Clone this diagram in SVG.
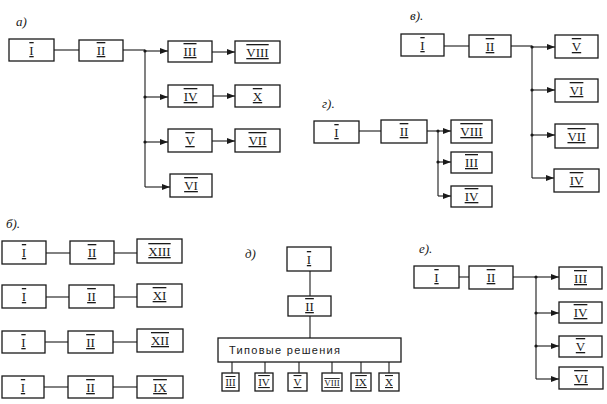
<svg xmlns="http://www.w3.org/2000/svg" width="607" height="404" viewBox="0 0 607 404">
<style>
.b{fill:#fff;stroke:#1a1a1a;stroke-width:1.3}
.n{font-family:"Liberation Serif",serif;font-size:13px;text-anchor:middle;fill:#1a1a1a;text-decoration:overline underline}
.c{stroke:#1a1a1a;stroke-width:1.1;fill:none}
.a{stroke:#1a1a1a;stroke-width:1.1;fill:none;marker-end:url(#ah)}
.l{font-family:"Liberation Serif",serif;font-style:italic;font-size:13px;fill:#1a1a1a}
.t{font-family:"Liberation Sans",sans-serif;font-size:11px;fill:#1a1a1a}
.d{fill:#1a1a1a}
</style>
<defs>
<marker id="ah" viewBox="0 0 8 6" refX="8" refY="3" markerWidth="8" markerHeight="6" markerUnits="userSpaceOnUse" orient="auto">
<path d="M0,0 L8,3 L0,6 Z" fill="#1a1a1a"/>
</marker>
</defs>
<rect width="607" height="404" fill="#fff"/>
<g id="labels">
<text class="l" x="16" y="26">а)</text>
<text class="l" x="410" y="20">в).</text>
<text class="l" x="322" y="108">г).</text>
<text class="l" x="6" y="228">б).</text>
<text class="l" x="245" y="258">д)</text>
<text class="l" x="419" y="253">е).</text>
</g>
<g id="connectors">
<line class="c" x1="54" y1="50" x2="79" y2="50"/>
<line class="c" x1="123" y1="50" x2="145" y2="50"/>
<line class="c" x1="145" y1="50" x2="145" y2="187"/>
<line class="a" x1="145" y1="51" x2="168" y2="51"/>
<line class="a" x1="212" y1="52" x2="235" y2="52"/>
<line class="a" x1="145" y1="97" x2="168" y2="97"/>
<line class="a" x1="213" y1="96" x2="235" y2="96"/>
<line class="a" x1="145" y1="142" x2="168" y2="142"/>
<line class="a" x1="212" y1="141" x2="235" y2="141"/>
<line class="a" x1="145" y1="187" x2="170" y2="187"/>
<circle class="d" cx="145" cy="51" r="1.6"/><circle class="d" cx="145" cy="97" r="1.6"/><circle class="d" cx="145" cy="142" r="1.6"/>
<line class="c" x1="444" y1="46" x2="469" y2="46"/>
<line class="c" x1="511" y1="46" x2="532" y2="46"/>
<line class="c" x1="532" y1="46" x2="532" y2="178"/>
<line class="a" x1="532" y1="47" x2="555" y2="47"/>
<line class="a" x1="532" y1="90" x2="555" y2="90"/>
<line class="a" x1="532" y1="135" x2="555" y2="135"/>
<line class="a" x1="532" y1="178" x2="554" y2="178"/>
<circle class="d" cx="532" cy="47" r="1.6"/><circle class="d" cx="532" cy="90" r="1.6"/><circle class="d" cx="532" cy="135" r="1.6"/>
<line class="c" x1="359" y1="131" x2="381" y2="131"/>
<line class="c" x1="427" y1="131" x2="438" y2="131"/>
<line class="c" x1="438" y1="131" x2="438" y2="196"/>
<line class="a" x1="438" y1="131" x2="451" y2="131"/>
<line class="a" x1="438" y1="162" x2="451" y2="162"/>
<line class="a" x1="438" y1="196" x2="451" y2="196"/>
<circle class="d" cx="438" cy="131" r="1.6"/><circle class="d" cx="438" cy="162" r="1.6"/>
<line class="c" x1="46" y1="253" x2="70" y2="253"/><line class="c" x1="114" y1="253" x2="137" y2="253"/>
<line class="c" x1="46" y1="297" x2="69" y2="297"/><line class="c" x1="114" y1="297" x2="137" y2="297"/>
<line class="c" x1="45" y1="342" x2="68" y2="342"/><line class="c" x1="113" y1="342" x2="137" y2="342"/>
<line class="c" x1="44" y1="387" x2="68" y2="387"/><line class="c" x1="113" y1="387" x2="137" y2="387"/>
<line class="c" x1="310" y1="271" x2="310" y2="296"/>
<line class="c" x1="310" y1="316" x2="310" y2="338"/>
<line class="c" x1="232" y1="362" x2="232" y2="373"/>
<line class="c" x1="265" y1="362" x2="265" y2="373"/>
<line class="c" x1="299" y1="362" x2="299" y2="373"/>
<line class="c" x1="332" y1="362" x2="332" y2="373"/>
<line class="c" x1="361" y1="362" x2="361" y2="373"/>
<line class="c" x1="389" y1="362" x2="389" y2="373"/>
<line class="c" x1="459" y1="277" x2="469" y2="277"/>
<line class="c" x1="513" y1="277" x2="536" y2="277"/>
<line class="c" x1="536" y1="277" x2="536" y2="379"/>
<line class="a" x1="536" y1="277" x2="559" y2="277"/>
<line class="a" x1="536" y1="313" x2="559" y2="313"/>
<line class="a" x1="536" y1="346" x2="559" y2="346"/>
<line class="a" x1="536" y1="379" x2="559" y2="379"/>
<circle class="d" cx="536" cy="277" r="1.6"/><circle class="d" cx="536" cy="313" r="1.6"/><circle class="d" cx="536" cy="346" r="1.6"/>
</g>
<g id="a-I"><rect class="b" x="9" y="39" width="45" height="22"/><text class="n" x="31.5" y="55">I</text></g>
<g id="a-II"><rect class="b" x="79" y="40" width="44" height="21"/><text class="n" x="101" y="55">II</text></g>
<g id="a-III"><rect class="b" x="168" y="41" width="44" height="21"/><text class="n" x="190" y="56">III</text></g>
<g id="a-VIII"><rect class="b" x="235" y="41" width="45" height="22"/><text class="n" x="257.5" y="57">VIII</text></g>
<g id="a-IV"><rect class="b" x="168" y="85" width="45" height="22"/><text class="n" x="190.5" y="101">IV</text></g>
<g id="a-X"><rect class="b" x="235" y="85" width="45" height="22"/><text class="n" x="257.5" y="101">X</text></g>
<g id="a-V"><rect class="b" x="168" y="129" width="44" height="23"/><text class="n" x="190" y="145">V</text></g>
<g id="a-VII"><rect class="b" x="235" y="129" width="45" height="23"/><text class="n" x="257.5" y="145">VII</text></g>
<g id="a-VI"><rect class="b" x="170" y="174" width="42" height="23"/><text class="n" x="191" y="190">VI</text></g>
<g id="v-I"><rect class="b" x="401" y="34" width="43" height="22"/><text class="n" x="422.5" y="50">I</text></g>
<g id="v-II"><rect class="b" x="469" y="35" width="42" height="22"/><text class="n" x="490" y="51">II</text></g>
<g id="v-V"><rect class="b" x="555" y="35" width="43" height="23"/><text class="n" x="576.5" y="51">V</text></g>
<g id="v-VI"><rect class="b" x="555" y="79" width="43" height="23"/><text class="n" x="576.5" y="95">VI</text></g>
<g id="v-VII"><rect class="b" x="555" y="124" width="43" height="24"/><text class="n" x="576.5" y="141">VII</text></g>
<g id="v-IV"><rect class="b" x="554" y="169" width="45" height="23"/><text class="n" x="576.5" y="185">IV</text></g>
<g id="g-I"><rect class="b" x="314" y="121" width="45" height="22"/><text class="n" x="336.5" y="137">I</text></g>
<g id="g-II"><rect class="b" x="381" y="120" width="46" height="23"/><text class="n" x="404" y="136">II</text></g>
<g id="g-VIII"><rect class="b" x="451" y="120" width="41" height="23"/><text class="n" x="471.5" y="136">VIII</text></g>
<g id="g-III"><rect class="b" x="451" y="152" width="41" height="21"/><text class="n" x="471.5" y="167">III</text></g>
<g id="g-IV"><rect class="b" x="451" y="186" width="41" height="21"/><text class="n" x="471.5" y="201">IV</text></g>
<g id="b1-I"><rect class="b" x="2" y="241" width="44" height="23"/><text class="n" x="24" y="257">I</text></g>
<g id="b1-II"><rect class="b" x="70" y="241" width="44" height="23"/><text class="n" x="92" y="257">II</text></g>
<g id="b1-XIII"><rect class="b" x="137" y="239" width="45" height="24"/><text class="n" x="159.5" y="256">XIII</text></g>
<g id="b2-I"><rect class="b" x="2" y="285" width="44" height="23"/><text class="n" x="24" y="301">I</text></g>
<g id="b2-II"><rect class="b" x="69" y="285" width="45" height="23"/><text class="n" x="91.5" y="301">II</text></g>
<g id="b2-XI"><rect class="b" x="137" y="284" width="45" height="23"/><text class="n" x="159.5" y="300">XI</text></g>
<g id="b3-I"><rect class="b" x="2" y="331" width="43" height="22"/><text class="n" x="23.5" y="347">I</text></g>
<g id="b3-II"><rect class="b" x="68" y="331" width="45" height="22"/><text class="n" x="90.5" y="347">II</text></g>
<g id="b3-XII"><rect class="b" x="137" y="329" width="46" height="23"/><text class="n" x="160" y="345">XII</text></g>
<g id="b4-I"><rect class="b" x="2" y="376" width="42" height="22"/><text class="n" x="23" y="392">I</text></g>
<g id="b4-II"><rect class="b" x="68" y="376" width="45" height="22"/><text class="n" x="90.5" y="392">II</text></g>
<g id="b4-IX"><rect class="b" x="137" y="376" width="46" height="22"/><text class="n" x="160" y="392">IX</text></g>
<g id="d-I"><rect class="b" x="287" y="247" width="44" height="24"/><text class="n" x="309" y="264">I</text></g>
<g id="d-II"><rect class="b" x="288" y="296" width="43" height="20"/><text class="n" x="309.5" y="311">II</text></g>
<g id="d-types"><rect class="b" x="218" y="338" width="183" height="24"/><text class="t" x="229" y="354" textLength="111" lengthAdjust="spacing">Типовые решения</text></g>
<g id="d-III"><rect class="b" x="222" y="373" width="17" height="18"/><text class="n" x="230.5" y="386" style="font-size:10px">III</text></g>
<g id="d-IV"><rect class="b" x="255" y="373" width="18" height="18"/><text class="n" x="264" y="386" style="font-size:11px">IV</text></g>
<g id="d-V"><rect class="b" x="288" y="373" width="19" height="18"/><text class="n" x="297.5" y="386" style="font-size:11px">V</text></g>
<g id="d-VIII"><rect class="b" x="322" y="373" width="20" height="18"/><text class="n" x="332" y="386" style="font-size:9px">VIII</text></g>
<g id="d-IX"><rect class="b" x="351" y="373" width="20" height="18"/><text class="n" x="361" y="386" style="font-size:11px">IX</text></g>
<g id="d-X"><rect class="b" x="379" y="373" width="20" height="18"/><text class="n" x="389" y="386" style="font-size:11px">X</text></g>
<g id="e-I"><rect class="b" x="414" y="266" width="45" height="22"/><text class="n" x="436.5" y="282">I</text></g>
<g id="e-II"><rect class="b" x="469" y="266" width="44" height="23"/><text class="n" x="491" y="282">II</text></g>
<g id="e-III"><rect class="b" x="559" y="267" width="43" height="22"/><text class="n" x="580.5" y="283">III</text></g>
<g id="e-IV"><rect class="b" x="559" y="302" width="43" height="21"/><text class="n" x="580.5" y="317">IV</text></g>
<g id="e-V"><rect class="b" x="559" y="336" width="43" height="21"/><text class="n" x="580.5" y="351">V</text></g>
<g id="e-VI"><rect class="b" x="559" y="367" width="44" height="22"/><text class="n" x="581" y="383">VI</text></g>
</svg>
